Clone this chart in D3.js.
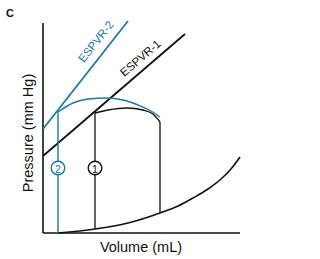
<!DOCTYPE html>
<html><head><meta charset="utf-8">
<script src="https://cdn.jsdelivr.net/npm/d3@7"></script>
<style>body{margin:0;background:#fff}svg{display:block}</style>
</head><body><svg id="c" width="320" height="259"></svg>
<script>
const blue = "#1a78ab", black = "#111";
// volume (arbitrary units), pressure (arbitrary units)
const espvr2 = [[0,104],[85,212]];
const espvr1 = [[0,77],[142,199]];
const loop2Vertical = [[15,0],[15,121]];
const loop2Arc = [[15,121],[30,130],[45,134],[64,135],[80,133],[95,128],[108,122],[117,116]];
const loop1Vertical = [[52,4],[52,120]];
const loop1Arc = [[52,120],[65,123],[84,125],[100,123],[110,119],[117,111]];
const edVertical = [[117,20],[117,111]];
const edpvr = [[15,0],[52,4],[85,10],[117,20],[135,27],[150,35],[165,44],[178,54],[188,64],[197,76]];
const labels = {x:"Volume (mL)", y:"Pressure (mm Hg)", panel:"C", l1:"ESPVR-1", l2:"ESPVR-2"};
const markers = [{v:15,p:65,t:"2",c:"blue"},{v:52,p:65,t:"1",c:"black"}];

const svg = d3.select("#c");
const x = d3.scaleLinear().domain([0,200]).range([43,243]);
const y = d3.scaleLinear().domain([0,210]).range([233,23]);
const line = d3.line().x(d=>x(d[0])).y(d=>y(d[1]));
const curve = d3.line().x(d=>x(d[0])).y(d=>y(d[1])).curve(d3.curveMonotoneX);

// axes
svg.append("g").attr("transform",`translate(0,${y(0)})`)
  .call(d3.axisBottom(x).ticks(0).tickSize(0).tickSizeOuter(0))
  .call(g=>g.select(".domain").attr("stroke",black).attr("stroke-width",1.6).attr("d",`M${x(0)},0H${x(197)}`));
svg.append("g").attr("transform",`translate(${x(0)},0)`)
  .call(d3.axisLeft(y).ticks(0).tickSize(0).tickSizeOuter(0))
  .call(g=>g.select(".domain").attr("stroke",black).attr("stroke-width",1.6).attr("d",`M0,${y(0)}V${y(210)}`));

function path(d, c, w, gen){ svg.append("path").attr("d",(gen||line)(d)).attr("fill","none").attr("stroke",c).attr("stroke-width",w); }
path(espvr1, black, 1.8);
path(espvr2, blue, 1.8);
path(edpvr, black, 1.6, curve);
path(loop1Vertical, black, 1.3);
path(edVertical, black, 1.3);
path(loop1Arc, black, 1.4, curve);
path(loop2Vertical, blue, 1.4);
path(loop2Arc, blue, 1.4, curve);

markers.forEach(m=>{
  const col = m.c==="blue"?blue:black;
  svg.append("circle").attr("cx",x(m.v)).attr("cy",y(m.p)).attr("r",6.8).attr("fill","#fff").attr("stroke",col).attr("stroke-width",1.4);
  svg.append("text").attr("x",x(m.v)).attr("y",y(m.p)+0.5).attr("text-anchor","middle").attr("dominant-baseline","central")
    .attr("font-family","Liberation Sans, Arial, sans-serif").attr("font-size",10.5).attr("fill",col).text(m.t);
});

function angleOf(seg){ const dx=x(seg[1][0])-x(seg[0][0]), dy=y(seg[1][1])-y(seg[0][1]); return Math.atan2(dy,dx)*180/Math.PI; }
svg.append("text").attr("transform",`translate(143,61) rotate(${angleOf(espvr1)})`).attr("text-anchor","middle")
  .attr("font-family","Liberation Sans, Arial, sans-serif").attr("font-size",11.5).attr("fill",black).text(labels.l1);
svg.append("text").attr("transform",`translate(99,44) rotate(${angleOf(espvr2)})`).attr("text-anchor","middle")
  .attr("font-family","Liberation Sans, Arial, sans-serif").attr("font-size",11.5).attr("fill",blue).text(labels.l2);

svg.append("text").attr("x",141).attr("y",252).attr("text-anchor","middle")
  .attr("font-family","Liberation Sans, Arial, sans-serif").attr("font-size",14.5).attr("fill",black).text(labels.x);
svg.append("text").attr("transform","translate(28,133) rotate(-90)").attr("text-anchor","middle").attr("dominant-baseline","central")
  .attr("font-family","Liberation Sans, Arial, sans-serif").attr("font-size",14.5).attr("fill",black).text(labels.y);
svg.append("text").attr("x",10).attr("y",17).attr("text-anchor","middle")
  .attr("font-family","Liberation Sans, Arial, sans-serif").attr("font-weight","bold").attr("font-size",11).attr("fill",black).text(labels.panel);
</script></body></html>
